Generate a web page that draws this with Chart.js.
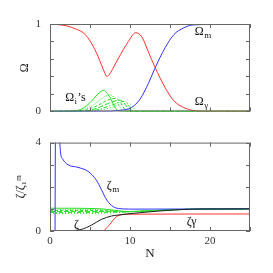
<!DOCTYPE html>
<html>
<head>
<meta charset="utf-8">
<script src="https://cdn.jsdelivr.net/npm/chart.js@4.4.0/dist/chart.umd.min.js"></script>
<style>
  html, body { margin: 0; padding: 0; background: #fff; }
  #topBox { position: absolute; left: 0; top: 0; width: 273px; height: 127px; }
  #botBox { position: absolute; left: 0; top: 127px; width: 273px; height: 146px; }
</style>
</head>
<body>
<div id="topBox"><canvas id="topChart" width="273" height="127"></canvas></div>
<div id="botBox"><canvas id="botChart" width="273" height="146"></canvas></div>
<script>
// ---- top panel: Omega fractions vs N ----
const nGamma = [0, 2, 3.3, 4.4, 5.6, 6.4, 6.8, 7.1, 7.4, 7.8, 8.5, 9.8, 10.7, 11.5, 12.3, 13.1, 14.4, 15.5, 16.7, 17.9, 19.5, 25];
const omegaGamma = [1, 0.98, 0.94, 0.88, 0.71, 0.54, 0.45, 0.40, 0.42, 0.48, 0.60, 0.80, 0.90, 0.85, 0.68, 0.51, 0.27, 0.12, 0.045, 0.01, 0, 0];

const nM = [0, 7, 8.5, 10.2, 11.25, 12.3, 13.1, 14.4, 15.5, 16.7, 17.9, 25];
const omegaM = [0, 0, 0.01, 0.045, 0.14, 0.32, 0.49, 0.73, 0.88, 0.955, 0.99, 1];

// the Omega_i's (one per component)
const nOmI1 = [0, 3, 4, 5, 6, 6.7, 7.5, 8.1, 8.7, 25];
const omI1  = [0, 0.005, 0.03, 0.1, 0.2, 0.24, 0.16, 0.05, 0, 0];
const nOmI2 = [0, 3.5, 4.5, 5.5, 6.5, 7.5, 8.3, 8.8, 9.2, 25];
const omI2  = [0, 0.005, 0.03, 0.08, 0.15, 0.19, 0.12, 0.04, 0, 0];
const nOmI3 = [0, 4, 5, 6, 7, 8.2, 8.9, 9.3, 9.6, 25];
const omI3  = [0, 0.005, 0.03, 0.07, 0.12, 0.15, 0.09, 0.03, 0, 0];
const nOmI4 = [0, 4.5, 5.5, 6.5, 7.5, 8.8, 9.4, 9.8, 10.1, 25];
const omI4  = [0, 0.005, 0.025, 0.06, 0.1, 0.13, 0.08, 0.03, 0, 0];
const nOmI5 = [0, 5, 6, 7, 8, 9.3, 9.8, 10.2, 10.5, 25];
const omI5  = [0, 0.005, 0.02, 0.05, 0.08, 0.115, 0.07, 0.025, 0, 0];
const nOmI6 = [0, 5.5, 6.5, 7.5, 8.5, 9.8, 10.3, 10.6, 10.9, 25];
const omI6  = [0, 0.005, 0.02, 0.04, 0.07, 0.095, 0.06, 0.02, 0, 0];

// ---- bottom panel: zeta / zeta_1^m ----
const nZetaM = [0.62, 0.68, 0.9, 1.05, 1.33, 1.6, 2.25, 3.5, 4.75, 5.8, 6.4, 7.1, 7.9, 9.2, 10.5, 25];
const zetaM  = [-1, 5, null, 5, 3.52, 3.25, 3.0, 2.88, 2.7, 2.3, 1.89, 1.4, 1.1, 1.0, 0.99, 1.0];

const nZeta = [0, 2, 3.9, 5.2, 6.4, 7.7, 8.5, 10.4, 12.5, 14.6, 16.5, 18.75, 25];
const zeta  = [0, 0.01, 0.07, 0.27, 0.52, 0.68, 0.72, 0.80, 0.87, 0.93, 0.97, 0.995, 1.0];

const nZetaG = [0, 6.5, 6.8, 7.5, 8.1, 8.5, 9.5, 25];
const zetaG  = [0, 0, 0.04, 0.31, 0.58, 0.69, 0.76, 0.77];

const nZi = [0, 3, 5, 6.5, 8, 9.5, 11, 13, 16, 25];
const zi1 = [1.03, 1.03, 1.02, 1.0, 0.94, 0.88, 0.89, 0.92, 0.97, 1.0];
const zi2 = [0.98, 0.98, 0.97, 0.96, 0.92, 0.88, 0.89, 0.92, 0.97, 1.0];
const zi3 = [0.93, 0.93, 0.93, 0.92, 0.9, 0.875, 0.89, 0.92, 0.97, 1.0];
const zi4 = [0.88, 0.88, 0.88, 0.88, 0.875, 0.87, 0.89, 0.92, 0.97, 1.0];
const zi5 = [0.84, 0.84, 0.84, 0.845, 0.85, 0.865, 0.89, 0.92, 0.97, 1.0];
const zi6 = [0.80, 0.80, 0.80, 0.81, 0.83, 0.86, 0.89, 0.92, 0.97, 1.0];

const RED = 'rgb(255,50,50)', BLUE = 'rgb(50,50,255)', GREEN = 'rgb(40,225,40)';
const SERIF = "'Liberation Serif', 'DejaVu Serif', serif";

const pts = (xs, ys) => xs.map((x, i) => ({x: x, y: ys[i]}));

function line(data, color, dash) {
  return {
    data: data,
    borderColor: color,
    borderWidth: 1,
    borderDash: dash || [],
    pointRadius: 0,
    fill: false,
    cubicInterpolationMode: 'monotone',
    spanGaps: false
  };
}

// inward ticks on all four sides plus the frame
const frame = {
  id: 'frame',
  afterDraw(chart) {
    const {ctx, chartArea: a, scales: {x, y}} = chart;
    ctx.save();
    ctx.strokeStyle = '#666';
    ctx.lineWidth = 1;
    ctx.beginPath();
    x.ticks.forEach(t => {
      const px = Math.round(x.getPixelForValue(t.value)) + 0.5;
      ctx.moveTo(px, a.bottom); ctx.lineTo(px, a.bottom - 4);
      ctx.moveTo(px, a.top); ctx.lineTo(px, a.top + 4);
    });
    y.ticks.forEach(t => {
      const py = Math.round(y.getPixelForValue(t.value)) + 0.5;
      ctx.moveTo(a.left, py); ctx.lineTo(a.left + 4, py);
      ctx.moveTo(a.right, py); ctx.lineTo(a.right - 4, py);
    });
    ctx.stroke();
    ctx.strokeRect(a.left + 0.5, a.top + 0.5, a.right - a.left - 1, a.bottom - a.top - 1);
    ctx.restore();
  }
};

// curve labels with subscripts, placed in data coordinates
const curveLabels = {
  id: 'curveLabels',
  afterDraw(chart, args, opts) {
    const {ctx, scales: {x, y}} = chart;
    ctx.save();
    ctx.fillStyle = '#111';
    ctx.textBaseline = 'middle';
    ctx.textAlign = 'left';
    (opts.items || []).forEach(it => {
      let px = x.getPixelForValue(it.n);
      const py = y.getPixelForValue(it.v);
      ctx.font = '12px ' + SERIF;
      ctx.fillText(it.text, px, py);
      px += ctx.measureText(it.text).width;
      if (it.sub) {
        ctx.font = '9px ' + SERIF;
        ctx.fillText(it.sub, px + 0.5, py + 4);
        px += ctx.measureText(it.sub).width + 1;
      }
      if (it.after) {
        ctx.font = '12px ' + SERIF;
        ctx.fillText(it.after, px, py);
      }
    });
    ctx.restore();
  }
};

const tickFont = {family: SERIF, size: 11};

new Chart(document.getElementById('topChart'), {
  type: 'line',
  data: {
    datasets: [
      line(pts(nGamma, omegaGamma), RED),
      line(pts(nM, omegaM), BLUE),
      line(pts(nOmI1, omI1), GREEN),
      line(pts(nOmI2, omI2), GREEN, [1, 1.5]),
      line(pts(nOmI3, omI3), GREEN, [3, 2]),
      line(pts(nOmI4, omI4), GREEN, [5, 2]),
      line(pts(nOmI5, omI5), GREEN, [4, 2, 1, 2]),
      line(pts(nOmI6, omI6), GREEN, [1, 2])
    ]
  },
  options: {
    responsive: false,
    animation: false,
    layout: {padding: {top: 24, right: 23, left: 0, bottom: 0}},
    plugins: {
      legend: {display: false},
      tooltip: {enabled: false},
      curveLabels: {items: [
        {text: 'Ω', sub: 'm', n: 18.1, v: 0.91},
        {text: 'Ω', sub: 'γ', n: 18.1, v: 0.11},
        {text: 'Ω', sub: 'i', after: '\u2019s', n: 1.9, v: 0.155}
      ]}
    },
    scales: {
      x: {
        type: 'linear', min: 0, max: 25,
        ticks: {display: false, stepSize: 5},
        grid: {display: false, drawTicks: false},
        border: {display: false},
        afterFit(s) { s.height = 6; }
      },
      y: {
        min: 0, max: 1,
        ticks: {
          stepSize: 0.2, padding: 9, color: '#333', font: tickFont,
          callback: v => (Math.abs(v) < 1e-6 || Math.abs(v - 1) < 1e-6) ? Math.round(v) : ''
        },
        grid: {display: false, drawTicks: false},
        border: {display: false},
        title: {display: true, text: 'Ω', color: '#222', font: {family: SERIF, size: 12}, padding: {top: 18, bottom: 0}},
        afterFit(s) { s.width = 50; }
      }
    }
  },
  plugins: [frame, curveLabels]
});

new Chart(document.getElementById('botChart'), {
  type: 'line',
  data: {
    datasets: [
      line(pts(nZeta, zeta), 'rgb(30,30,30)'),
      line(pts(nZetaG, zetaG), RED),
      line(pts(nZetaM, zetaM), BLUE),
      line(pts(nZi, zi1), GREEN),
      line(pts(nZi, zi2), GREEN, [1, 1.5]),
      line(pts(nZi, zi3), GREEN, [3, 2]),
      line(pts(nZi, zi4), GREEN, [5, 2]),
      line(pts(nZi, zi5), GREEN, [4, 2, 1, 2]),
      line(pts(nZi, zi6), GREEN, [1, 2])
    ]
  },
  options: {
    responsive: false,
    animation: false,
    layout: {padding: {top: 6, right: 23, left: 0, bottom: 0}},
    plugins: {
      legend: {display: false},
      tooltip: {enabled: false},
      curveLabels: {items: [
        {text: 'ζ', sub: 'm', n: 7.1, v: 2.03},
        {text: 'ζ', n: 3.0, v: 0.28},
        {text: 'ζγ', n: 17.1, v: 0.4}
      ]}
    },
    scales: {
      x: {
        type: 'linear', min: 0, max: 25,
        ticks: {
          stepSize: 5, padding: 4, color: '#333', font: tickFont, maxRotation: 0,
          callback: v => (v % 10 === 0) ? v : ''
        },
        grid: {display: false, drawTicks: false},
        border: {display: false},
        title: {display: true, text: 'N', color: '#222', font: {family: SERIF, size: 13}, padding: {top: 0, bottom: 12}},
        afterFit(s) { s.height = 42; }
      },
      y: {
        min: 0, max: 4,
        ticks: {
          stepSize: 1, padding: 9, color: '#333', font: tickFont,
          callback: v => (v === 0 || v === 4) ? v : ''
        },
        grid: {display: false, drawTicks: false},
        border: {display: false},
        title: {display: true, text: 'ζ/ζ₁ᵐ', color: '#222', font: {family: SERIF, size: 12}, padding: {top: 14, bottom: 0}},
        afterFit(s) { s.width = 50; }
      }
    }
  },
  plugins: [frame, curveLabels]
});
</script>
</body>
</html>
